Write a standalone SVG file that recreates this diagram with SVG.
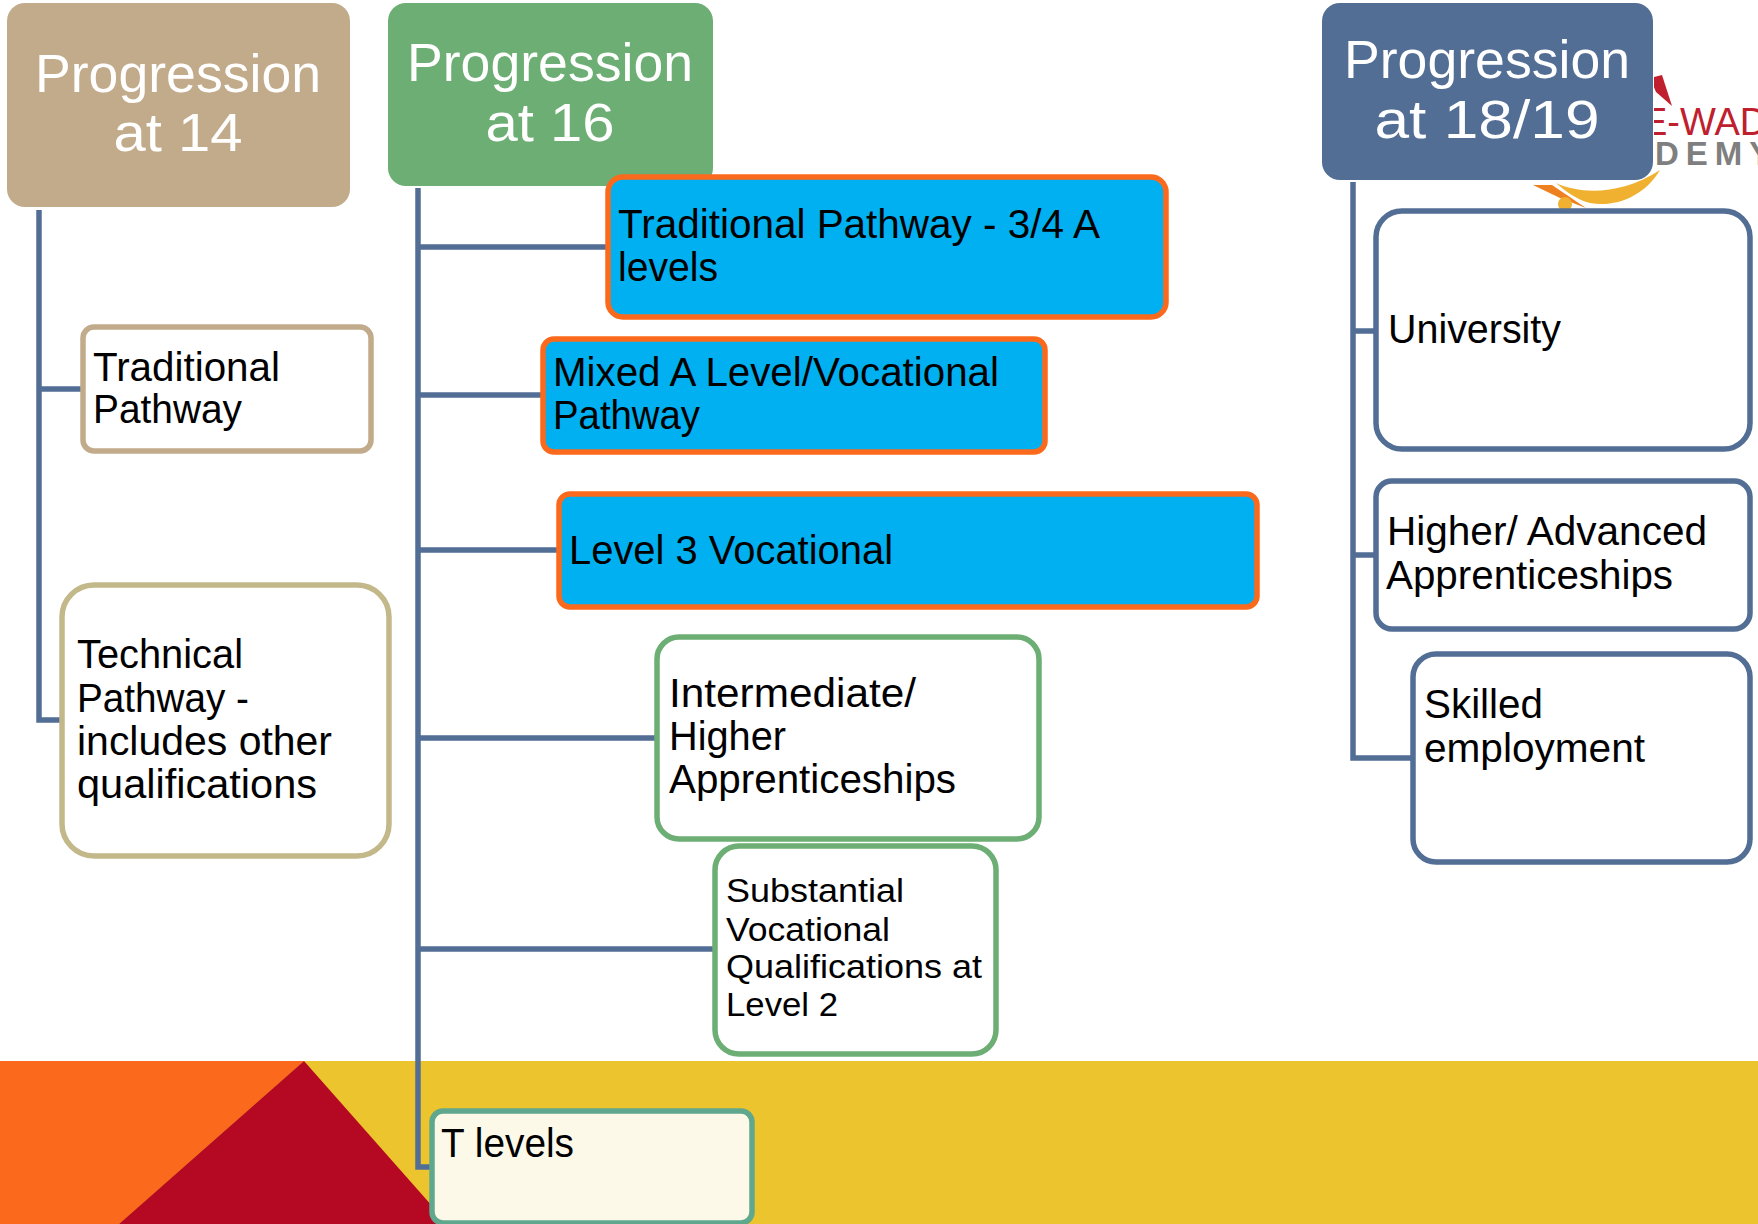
<svg xmlns="http://www.w3.org/2000/svg" width="1758" height="1224" viewBox="0 0 1758 1224">
<style>
text{font-family:"Liberation Sans",Arial,sans-serif}
.h{font-size:54px;fill:#fff;text-anchor:middle}
.t{font-size:40px;fill:#000}
.s{font-size:33.6px;fill:#000}
.c{fill:none;stroke:#526e95;stroke-width:5.5}
.b{stroke-width:5.5}
.tan{fill:#fff;stroke:#c2ab8a}
.tan2{fill:#fff;stroke:#c3b88a}
.blue{fill:#00b0f0;stroke:#fb6a1c}
.grn{fill:#fff;stroke:#6cae74}
.nav{fill:#fff;stroke:#526e95}
</style>
<rect width="1758" height="1224" fill="#fff"/>
<g id="background">
<rect x="0" y="1061" width="1758" height="163" fill="#ebc42e"/>
<polygon points="0,1061 304,1061 119,1224 0,1224" fill="#fb6a1c"/>
<polygon points="304,1061 448,1224 119,1224" fill="#b50823"/>
</g>
<g id="logo">
<polygon points="1650,78 1662,75 1672,106 1656,92" fill="#c0202e"/>
<path d="M1556,183 C1580,194 1620,196 1660,170 C1645,196 1615,208 1590,203 C1578,200 1566,192 1556,183Z" fill="#f0b030"/>
<path d="M1533,185 L1552,185 L1586,208 L1560,198 Z" fill="#ee8020"/>
<circle cx="1565" cy="204" r="7" fill="#f0b030"/>
<text x="1642" y="135" style="font-size:38px;fill:#c0202e">E-WAD</text>
<text x="1655" y="165" style="font-size:33px;font-weight:bold;fill:#7f7f7f;letter-spacing:7px">DEMY</text>
</g>
<g id="connectors">
<path class="c" d="M39,210V720H62M39,389H82"/>
<path class="c" d="M418,188V1167H430M418,247H607M418,395H542M418,550H557M418,738H656M418,949H714"/>
<path class="c" d="M1353,182V758H1412M1353,331H1375M1353,555H1375"/>
</g>
<g id="head14"><rect x="7" y="3" width="343" height="204" rx="18" fill="#c2ab8a"/><text class="h" x="178" y="92" textLength="286" lengthAdjust="spacingAndGlyphs">Progression</text><text class="h" x="178" y="151" textLength="129" lengthAdjust="spacingAndGlyphs">at 14</text></g>
<g id="head16"><rect x="388" y="3" width="325" height="183" rx="18" fill="#6cae74"/><text class="h" x="550" y="81" textLength="286" lengthAdjust="spacingAndGlyphs">Progression</text><text class="h" x="550" y="141" textLength="129" lengthAdjust="spacingAndGlyphs">at 16</text></g>
<g id="head18"><rect x="1322" y="3" width="331" height="177" rx="18" fill="#526e95" stroke="#fff" stroke-width="2" paint-order="stroke"/><text class="h" x="1487" y="78" textLength="286" lengthAdjust="spacingAndGlyphs">Progression</text><text class="h" x="1487" y="138" textLength="225" lengthAdjust="spacingAndGlyphs">at 18/19</text></g>
<g id="n1"><rect class="b tan" x="83" y="327" width="288" height="124" rx="11"/><text class="t" x="93" y="381" textLength="187" lengthAdjust="spacingAndGlyphs">Traditional</text><text class="t" x="93" y="423" textLength="149" lengthAdjust="spacingAndGlyphs">Pathway</text></g>
<g id="n2"><rect class="b tan2" x="62" y="585" width="327" height="271" rx="32"/><text class="t" x="77" y="668" textLength="166" lengthAdjust="spacingAndGlyphs">Technical</text><text class="t" x="77" y="712" textLength="172" lengthAdjust="spacingAndGlyphs">Pathway -</text><text class="t" x="77" y="755" textLength="255" lengthAdjust="spacingAndGlyphs">includes other</text><text class="t" x="77" y="798" textLength="240" lengthAdjust="spacingAndGlyphs">qualifications</text></g>
<g id="n3"><rect class="b blue" x="608" y="177" width="558" height="140" rx="15"/><text class="t" x="618" y="238" textLength="482" lengthAdjust="spacingAndGlyphs">Traditional Pathway - 3/4 A</text><text class="t" x="618" y="281" textLength="100" lengthAdjust="spacingAndGlyphs">levels</text></g>
<g id="n4"><rect class="b blue" x="543" y="339" width="502" height="113" rx="11"/><text class="t" x="553" y="386" textLength="446" lengthAdjust="spacingAndGlyphs">Mixed A Level/Vocational</text><text class="t" x="553" y="429" textLength="147" lengthAdjust="spacingAndGlyphs">Pathway</text></g>
<g id="n5"><rect class="b blue" x="559" y="494" width="698" height="113" rx="11"/><text class="t" x="569" y="564" textLength="324" lengthAdjust="spacingAndGlyphs">Level 3 Vocational</text></g>
<g id="n6"><rect class="b grn" x="657" y="637" width="382" height="202" rx="22"/><text class="t" x="669" y="707" textLength="247" lengthAdjust="spacingAndGlyphs">Intermediate/</text><text class="t" x="669" y="750" textLength="117" lengthAdjust="spacingAndGlyphs">Higher</text><text class="t" x="669" y="793" textLength="287" lengthAdjust="spacingAndGlyphs">Apprenticeships</text></g>
<g id="n7"><rect class="b grn" x="715" y="846" width="281" height="208" rx="24"/><text class="s" x="726" y="902" textLength="178" lengthAdjust="spacingAndGlyphs">Substantial</text><text class="s" x="726" y="941" textLength="164" lengthAdjust="spacingAndGlyphs">Vocational</text><text class="s" x="726" y="978" textLength="256" lengthAdjust="spacingAndGlyphs">Qualifications at</text><text class="s" x="726" y="1016" textLength="112" lengthAdjust="spacingAndGlyphs">Level 2</text></g>
<g id="n8"><rect x="432" y="1111" width="320" height="112" rx="11" fill="#fcf9e9" stroke="#5fa88e" stroke-width="5.5"/><text class="t" x="441" y="1157" textLength="133" lengthAdjust="spacingAndGlyphs">T levels</text></g>
<g id="n9"><rect class="b nav" x="1376" y="211" width="374" height="238" rx="26"/><text class="t" x="1388" y="343" textLength="173" lengthAdjust="spacingAndGlyphs">University</text></g>
<g id="n10"><rect class="b nav" x="1376" y="481" width="374" height="148" rx="16"/><text class="t" x="1387" y="545" textLength="320" lengthAdjust="spacingAndGlyphs">Higher/ Advanced</text><text class="t" x="1386" y="589" textLength="287" lengthAdjust="spacingAndGlyphs">Apprenticeships</text></g>
<g id="n11"><rect class="b nav" x="1413" y="654" width="337" height="208" rx="23"/><text class="t" x="1424" y="718" textLength="119" lengthAdjust="spacingAndGlyphs">Skilled</text><text class="t" x="1424" y="762" textLength="221" lengthAdjust="spacingAndGlyphs">employment</text></g>
</svg>
